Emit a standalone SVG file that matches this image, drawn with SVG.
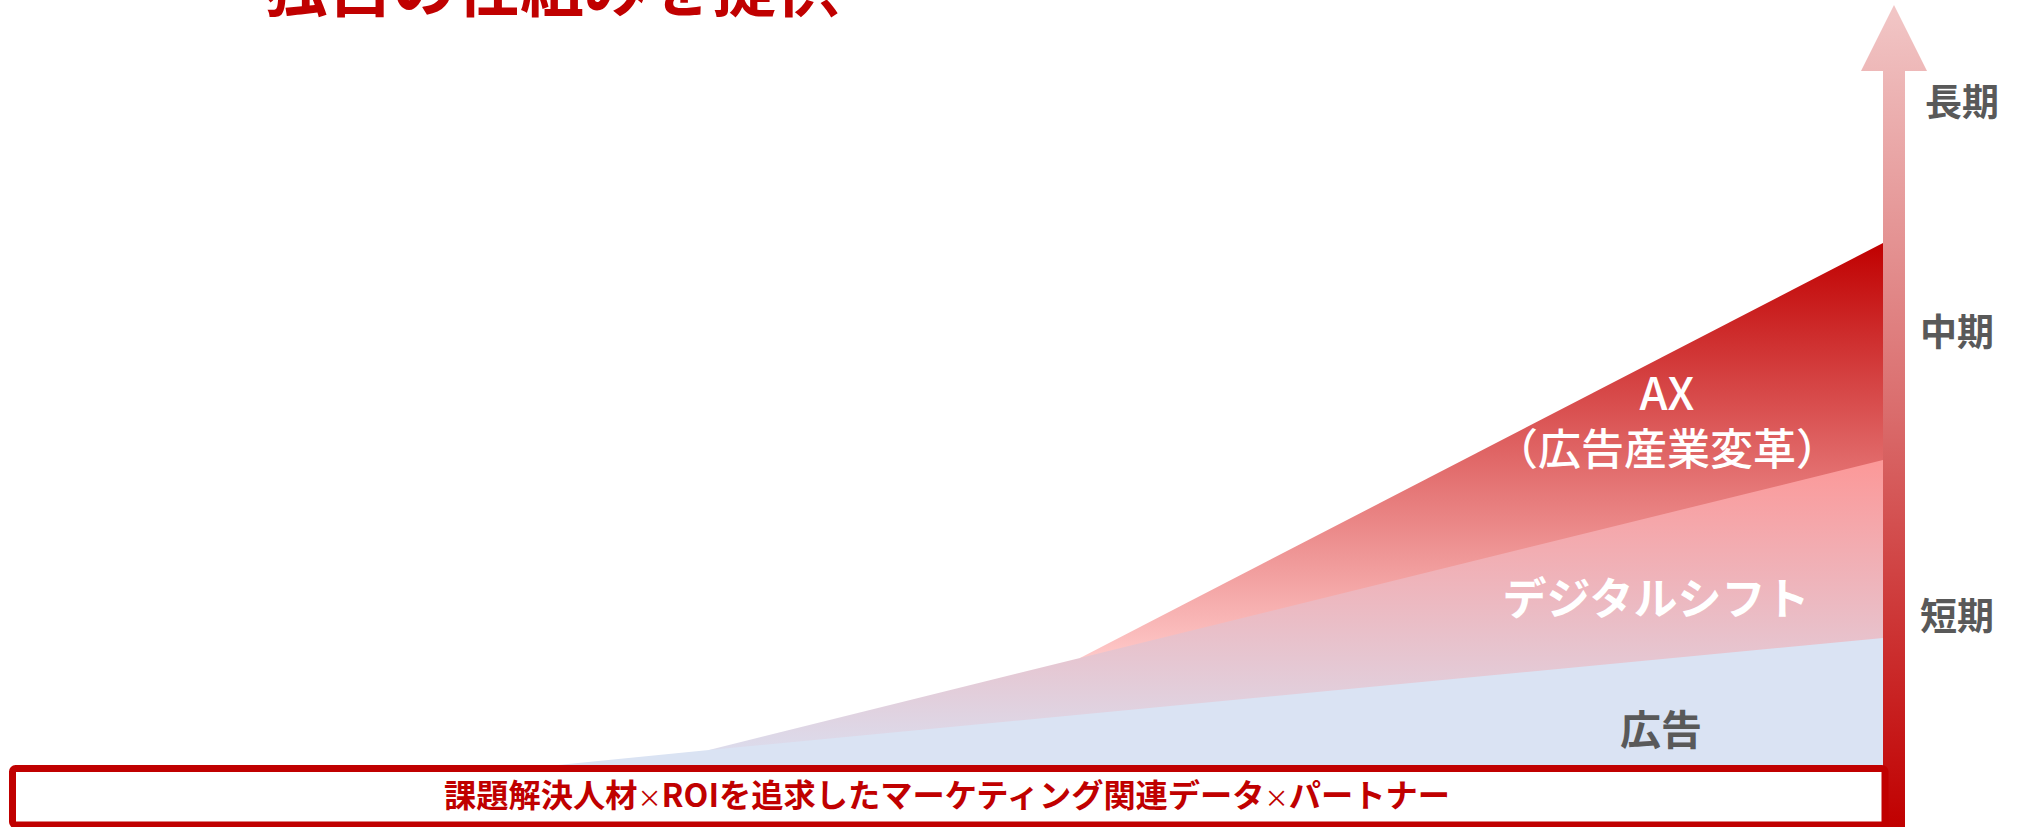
<svg xmlns="http://www.w3.org/2000/svg" width="2023" height="827" viewBox="0 0 2023 827">
<defs>
<style>
text{font-family:"Noto Sans CJK JP","Noto Sans",sans-serif;}
.title{font-size:64px;font-weight:700;fill:#c00000;}
.term{font-size:37px;font-weight:700;fill:#595959;text-anchor:middle;}
.wlab{fill:#ffffff;font-weight:500;text-anchor:middle;}
.wbold{font-weight:700;}
.box{fill:#ffffff;stroke:#c00000;stroke-width:7;}
.boxtxt{font-size:32px;font-weight:700;fill:#c00000;text-anchor:middle;}
.x{font-size:24px;font-weight:400;}
</style>
<linearGradient id="gArrow" gradientUnits="userSpaceOnUse" x1="0" y1="0" x2="0" y2="827">
<stop offset="0" stop-color="#f2c8c8"/>
<stop offset="0.5" stop-color="#da6c6c"/>
<stop offset="1" stop-color="#c00000"/>
</linearGradient>
<linearGradient id="gAX" gradientUnits="userSpaceOnUse" x1="0" y1="243" x2="0" y2="662">
<stop offset="0" stop-color="#c00000"/>
<stop offset="1" stop-color="#ffcaca"/>
</linearGradient>
<linearGradient id="gDS" gradientUnits="userSpaceOnUse" x1="0" y1="460" x2="0" y2="766">
<stop offset="0" stop-color="#fc9898"/>
<stop offset="1" stop-color="#dadff0"/>
</linearGradient>
</defs>

<g id="title">
<text class="title" x="264" y="11">独自の仕組みを提供</text>
</g>

<g id="areas">
<g id="ax-area">
<polygon points="1080,658 1883,243 1883,766 1080,766" fill="url(#gAX)"/>
<text class="wlab" x="1667" y="410" font-size="45">AX</text>
<text class="wlab" x="1667" y="465" font-size="43">（広告産業変革）</text>
</g>
<g id="ds-area">
<polygon points="709,750 1080,658 1883,460 1883,766 709,766" fill="url(#gDS)"/>
<text class="wlab wbold" x="1656" y="615" font-size="44">デジタルシフト</text>
</g>
<g id="ad-area">
<polygon points="548,766 709,750 1883,638 1883,766" fill="#dae3f3"/>
<text x="1661" y="745" font-size="41" font-weight="700" fill="#595959" text-anchor="middle">広告</text>
</g>
</g>

<g id="connectors">
<path id="time-arrow" d="M1883,827 L1883,71 L1861,71 L1894,5 L1927,71 L1905,71 L1905,827 Z" fill="url(#gArrow)"/>
</g>

<g id="term-long"><text class="term" x="1962" y="116">長期</text></g>
<g id="term-mid"><text class="term" x="1957" y="346">中期</text></g>
<g id="term-short"><text class="term" x="1957" y="630">短期</text></g>

<g id="base-box">
<rect class="box" x="12.5" y="768.5" width="1872.5" height="56.5" rx="3"/>
<text class="boxtxt" x="947" y="807" textLength="1006" lengthAdjust="spacingAndGlyphs">課題解決人材<tspan class="x">×</tspan>ROIを追求したマーケティング関連データ<tspan class="x">×</tspan>パートナー</text>
</g>
</svg>
